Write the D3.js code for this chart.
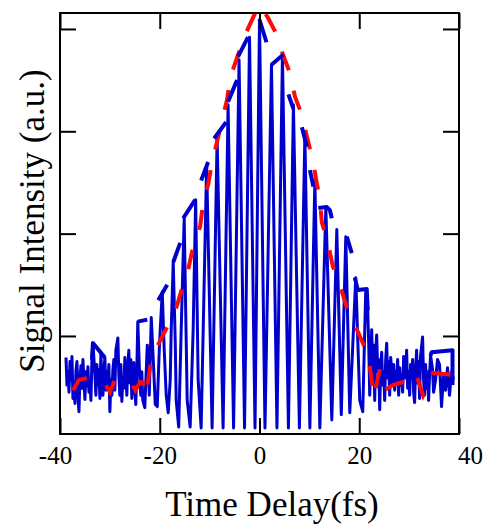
<!DOCTYPE html>
<meta charset="utf-8">
<script src="https://d3js.org/d3.v7.min.js"></script>
<style>
  body { margin: 0; background: #fff; }
  svg { font-family: "Liberation Serif", "Times New Roman", serif; }
</style>
<body>
<script>
// measured interferometric trace (time delay in fs, intensity a.u.)
var sigDelay = [
  -38.8,-38.6,-38.4,-38.2,-38.0,-37.8,-37.6,-37.4,-37.2,-37.0,
  -36.8,-36.6,-36.4,-36.2,-36.0,-35.8,-35.6,-35.4,-35.2,-35.0,
  -34.8,-34.6,-34.4,-34.2,-34.0,-33.8,-33.6,-33.4,-33.0,-32.8,
  -32.6,-32.4,-32.2,-32.0,-31.8,-31.6,-31.4,-31.2,-31.0,-30.8,
  -30.6,-30.4,-30.2,-30.0,-29.8,-29.6,-29.4,-29.2,-29.0,-28.8,
  -28.4,-28.2,-28.0,-27.8,-27.6,-27.4,-27.2,-27.0,-26.8,-26.6,
  -26.4,-26.2,-26.0,-25.8,-25.6,-25.4,-25.2,-25.0,-24.8,-24.6,
  -24.4,-24.0,-23.8,-23.6,-23.4,-23.0,-22.5,-22.3,-22.1,-21.7,
  -21.3,-20.9,-20.5,-20.1,-19.9,-19.5,-19.1,-18.7,-18.3,-17.9,
  -17.7,-17.3,-16.9,-16.7,-16.2,-15.7,-15.1,-14.5,-13.9,-13.3,
  -12.8,-12.3,-11.7,-10.6,-9.5,-8.5,-7.3,-6.3,-5.2,-4.1,
  -3.0,-2.0,-0.9,0.0,1.1,2.4,3.5,4.6,5.8,6.8,
  8.0,9.1,10.1,11.1,12.1,13.3,14.5,15.5,16.4,17.3,
  18.1,19.3,20.1,20.7,21.3,21.7,21.9,22.1,22.3,22.5,
  22.7,22.9,23.1,23.3,23.5,23.7,23.9,24.1,24.3,24.5,
  24.7,24.9,25.1,25.3,25.5,25.7,25.9,26.1,26.3,26.5,
  26.7,26.9,27.1,27.3,27.5,27.7,27.9,28.1,28.3,28.5,
  28.7,28.9,29.1,29.3,29.5,29.7,29.9,30.1,30.3,30.5,
  30.7,30.9,31.1,31.3,31.5,31.7,31.9,32.1,32.3,32.7,
  32.9,33.1,33.3,33.5,33.7,33.9,34.1,34.3,34.7,34.9,
  35.3,35.7,36.1,36.5,36.9,37.3,37.7,38.1,38.5,38.9
];
var sigValue = [
  0.79,0.52,0.65,0.45,0.75,0.57,0.80,0.39,0.54,0.34,
  0.66,0.75,0.42,0.26,0.59,0.71,0.49,0.77,0.56,0.38,
  0.65,0.51,0.70,0.45,0.57,0.37,0.77,0.93,0.62,0.42,
  0.72,0.52,0.67,0.39,0.83,0.57,0.42,0.65,0.79,0.47,
  0.65,0.52,0.72,0.26,0.57,0.42,0.67,0.77,0.47,0.86,
  0.98,0.62,0.42,0.72,0.36,0.59,0.49,0.79,0.65,0.42,
  0.72,0.86,0.54,0.77,0.39,0.60,0.74,0.47,0.33,0.67,
  1.14,0.57,0.42,0.65,0.37,0.30,0.91,0.77,0.42,1.18,
  0.77,0.33,0.31,0.86,1.06,1.43,0.86,0.42,0.25,0.57,
  1.06,1.72,0.96,0.37,0.11,1.06,2.15,0.37,0.11,1.06,
  2.33,0.57,0.10,2.67,0.10,2.94,0.10,3.26,0.10,3.70,
  0.10,3.92,0.10,4.09,0.10,3.65,0.10,3.74,0.10,3.26,
  0.10,2.96,0.10,2.52,0.10,2.26,0.18,2.04,0.23,1.97,
  0.25,1.57,0.37,0.26,1.45,1.25,0.91,0.42,0.77,1.06,
  0.59,0.91,0.37,0.86,1.01,0.65,0.77,0.28,0.69,0.84,
  0.52,0.65,0.37,0.77,0.93,0.59,0.75,0.42,0.79,0.67,
  0.54,0.72,0.47,0.65,0.57,0.77,0.42,0.69,0.52,0.62,
  0.45,0.80,0.65,0.59,0.86,0.49,0.65,0.42,0.72,0.59,
  0.77,0.45,0.35,0.67,0.86,0.54,0.75,0.39,0.81,0.99,
  0.57,0.42,0.72,0.49,0.65,0.37,0.62,0.81,0.67,0.45,
  0.57,0.77,0.72,0.31,0.62,0.47,0.69,0.42,0.65,0.57
];
// upper envelope pieces of the trace (NaN = break)
var envDelay = [-33.6,-33.4,-31.0, NaN,
  -24.4,-22.5, NaN, -20.3,-18.5, NaN, -17.3,-15.9, NaN,
  -15.3,-12.9, NaN, -11.7,-10.3, NaN, -9.1,-6.7, NaN,
  -6.3,-4.5, NaN, -4.3,-2.3, NaN, 0.0,1.4, NaN,
  2.4,4.8, NaN, 5.8,6.8, NaN, 8.5,9.5, NaN, 10.1,10.8, NaN,
  11.8,13.5,14.1,14.5, NaN, 17.5,18.5, NaN, 19.1,19.7,21.5,21.7, NaN,
  34.3,34.5,38.7,38.7];
var envValue = [0.77,0.93,0.79, NaN,
  1.14,1.16, NaN, 1.35,1.50, NaN, 1.72,1.91, NaN,
  2.15,2.33, NaN, 2.52,2.70, NaN, 2.93,3.09, NaN,
  3.29,3.50, NaN, 3.73,3.92, NaN, 4.09,3.87, NaN,
  3.65,3.75, NaN, 3.36,3.22, NaN, 3.04,2.85, NaN, 2.62,2.46, NaN,
  2.25,2.26,2.23,2.15, NaN, 1.97,1.81, NaN, 1.57,1.45,1.46,1.25, NaN,
  0.81,0.84,0.86,0.52];
// fitted envelope (red dashed)
var fitDelay = [-37.4,-36.2,-34.4,-32.0,-30.8,-30.0,-29.0,-26.9,-25.7,-24.9,
  -23.9,-23.4,-22.8,-21.9,-20.9,-18.5,-16.9,-15.5,-14.3,-13.3,
  -11.9,-11.3,-10.3,-9.5,-8.5,-7.5,-6.5,-5.9,-4.5,-2.9,
  -1.3,0.0,1.7,3.3,4.7,6.1,7.1,8.5,9.5,10.5,
  11.1,12.1,12.5,13.7,14.7,16.1,17.5,19.1,21.1,22.1,
  22.5,22.9,24.1,25.1,26.7,28.8,29.8,31.6,32.8,34.8,38.8];
var fitValue = [0.47,0.57,0.59,0.56,0.52,0.45,0.57,0.56,0.54,0.47,
  0.55,0.54,0.42,0.70,0.86,1.09,1.24,1.47,1.65,1.87,
  2.07,2.30,2.48,2.70,2.90,3.11,3.31,3.52,3.72,3.94,
  4.11,4.24,4.11,3.96,3.75,3.57,3.34,3.16,2.95,2.75,
  2.60,2.33,2.11,1.91,1.68,1.50,1.28,1.11,0.89,0.70,
  0.57,0.40,0.67,0.47,0.52,0.55,0.50,0.60,0.42,0.64,0.62];
var xTicks = [-40, -20, 0, 20, 40],
    yTicks = [1, 2, 3, 4];

var W = 487, H = 524,
    m = {top: 13, right: 28, bottom: 90, left: 60},
    blue = "#0000cc", red = "#ff0a0a", tick = 16;

var svg = d3.select("body").append("svg").attr("width", W).attr("height", H);
var x = d3.scaleLinear().domain([-40, 40]).range([m.left, W - m.right]),
    y = d3.scaleLinear().domain([0.042, 4.156]).range([H - m.bottom, m.top]);

svg.append("clipPath").attr("id", "plot").append("rect")
    .attr("x", m.left).attr("y", m.top)
    .attr("width", W - m.left - m.right).attr("height", H - m.top - m.bottom);

var line = d3.line().defined(function(d) { return !isNaN(d[1]); })
    .x(function(d) { return x(d[0]); }).y(function(d) { return y(d[1]); });

var plot = svg.append("g").attr("clip-path", "url(#plot)");
plot.append("path").datum(d3.zip(sigDelay, sigValue)).attr("d", line)
    .attr("fill", "none").attr("stroke", blue).attr("stroke-width", 3)
    .attr("stroke-linejoin", "round");
plot.append("path").datum(d3.zip(fitDelay, fitValue)).attr("d", line)
    .attr("fill", "none").attr("stroke", red).attr("stroke-width", 4)
    .attr("stroke-dasharray", "20,21");
plot.append("path").datum(d3.zip(envDelay, envValue)).attr("d", line)
    .attr("fill", "none").attr("stroke", blue).attr("stroke-width", 4)
    .attr("stroke-linejoin", "round");

function style(g) {
    g.select(".domain").remove();
    g.selectAll(".tick line").attr("stroke", "#000").attr("stroke-width", 2);
    g.selectAll(".tick text").attr("fill", "#000").attr("font-size", 25)
        .attr("font-family", "Liberation Serif, Times New Roman, serif");
}
var fmt = function(d) { return String(d); };
svg.append("g").attr("transform", "translate(0," + (H - m.bottom) + ")")
    .call(d3.axisBottom(x).tickValues(xTicks).tickSize(-tick).tickPadding(12).tickFormat(fmt))
    .call(style)
    .selectAll(".tick text").attr("dx", function(d) { return d === -40 ? -5 : d === 40 ? 11 : 0; });
svg.append("g").attr("transform", "translate(0," + m.top + ")")
    .call(d3.axisTop(x).tickValues(xTicks).tickSize(-tick).tickFormat("")).call(style);
svg.append("g").attr("transform", "translate(" + m.left + ",0)")
    .call(d3.axisLeft(y).tickValues(yTicks).tickSize(-tick).tickFormat("")).call(style);
svg.append("g").attr("transform", "translate(" + (W - m.right) + ",0)")
    .call(d3.axisRight(y).tickValues(yTicks).tickSize(-tick).tickFormat("")).call(style);

svg.append("rect").attr("x", m.left).attr("y", m.top)
    .attr("width", W - m.left - m.right).attr("height", H - m.top - m.bottom)
    .attr("fill", "none").attr("stroke", "#000").attr("stroke-width", 2);

svg.append("text").attr("x", 272).attr("y", 516).attr("text-anchor", "middle")
    .attr("font-size", 35).text("Time Delay(fs)");
svg.append("text").attr("transform", "translate(44,221) rotate(-90)")
    .attr("text-anchor", "middle").attr("font-size", 35).text("Signal Intensity (a.u.)");
</script>
